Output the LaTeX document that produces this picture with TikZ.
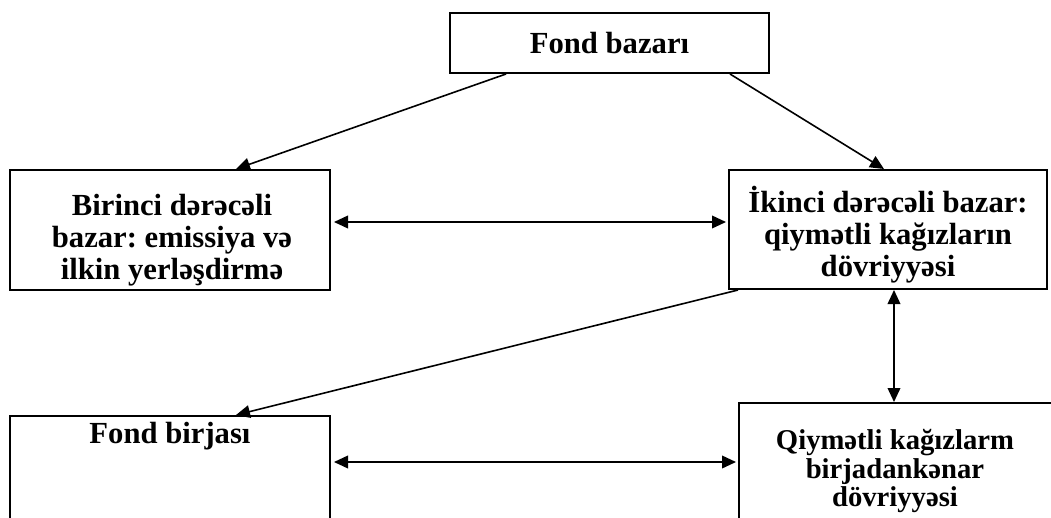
\documentclass[tikz,border=0pt]{standalone}
\usepackage{fontspec}
\setmainfont{Liberation Serif}
\usetikzlibrary{arrows.meta,calc}
\frenchspacing
\tikzset{
  box/.style={draw=black, line width=1.5pt, rectangle, inner sep=0pt},
  txt/.style={font=\bfseries\fontsize{23}{24}\selectfont, align=center, inner sep=0pt},
  txtb/.style={font=\bfseries\fontsize{21.5}{21.5}\selectfont, align=center, inner sep=0pt},
  arr/.style={line width=1.2pt, -{Triangle[length=10.5pt,width=9.5pt]}},
  darr/.style={line width=1.2pt, {Triangle[length=10.5pt,width=9.5pt]}-{Triangle[length=10.5pt,width=9.5pt]}}
}
\begin{document}
\begin{tikzpicture}[x=0.75pt,y=-0.75pt]
\useasboundingbox (0,0) rectangle (1051,518);
\fill[white] (0,0) rectangle (1051,518);
\clip (0,0) rectangle (1051,518);
% boxes
\node[box, minimum width=239.25pt, minimum height=45pt] (tb) at (609.5,43) {};
\node[box, minimum width=240pt, minimum height=90pt] (lm) at (170,230) {};
\node[box, minimum width=238.5pt, minimum height=89.25pt] (rm) at (888,229.5) {};
\node[box, minimum width=240pt, minimum height=108pt] (fb) at (170,488) {};
\node[box, minimum width=235.5pt, minimum height=117.75pt] (br) at (896,481.5) {};
% texts
\node[txt, anchor=base] (tbt) at (609.5,53) {Fond bazarı};
\node[txt] (lmt) at (172,240) {Birinci dərəcəli\\bazar: emissiya və\\ilkin yerləşdirmə};
\node[txt] (rmt) at (888,235) {İkinci dərəcəli bazar:\\qiymətli kağızların\\dövriyyəsi};
\node[txt, anchor=base] (fbt) at (170,443) {Fond birjası};
\node[txtb] (brt) at (895,471) {Qiymətli kağızlarm\\birjadankənar\\dövriyyəsi};
% connectors
\draw[arr] ($(tb.south west)+(57,0)$) -- ($(lm.north west)+(227,0)$);
\draw[arr] ($(tb.south east)+(-40,0)$) -- ($(rm.north west)+(156,0)$);
\draw[darr] ($(lm.east)+(3,-8)$) -- ($(rm.west)+(-2,-7.5)$);
\draw[arr] ($(rm.south west)+(10,0)$) -- ($(fb.north west)+(227,0)$);
\draw[darr] ($(rm.south west)+(166,0)$) -- ($(br.north west)+(156,0)$);
\draw[darr] ($(fb.east)+(3,-26)$) -- ($(br.west)+(-2,-19.5)$);
\end{tikzpicture}
\end{document}
